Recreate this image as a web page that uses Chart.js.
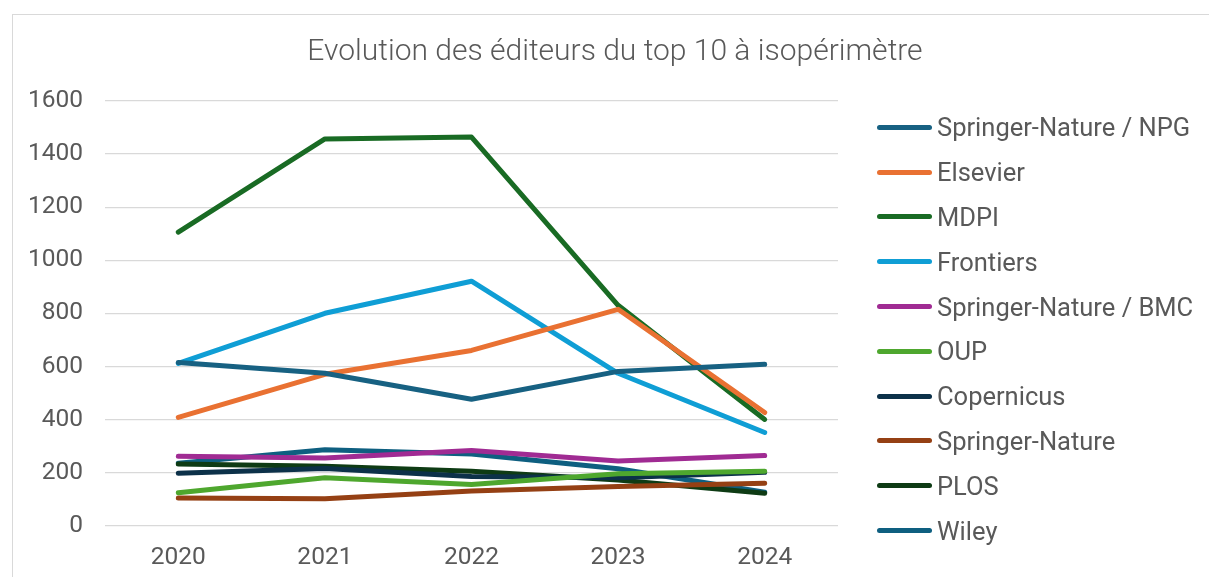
<!DOCTYPE html>
<html>
<head>
<meta charset="utf-8">
<script src="https://cdn.jsdelivr.net/npm/chart.js@4"></script>
<style>
  body { margin: 0; background: #fff; font-family: Roboto, 'Liberation Sans', sans-serif; }
  #wrap {
    position: absolute; left: 12px; top: 14px;
    width: 1200px; height: 570px;
    border: 1px solid #d9d9d9; box-sizing: border-box;
  }
  #title { position: absolute; left: 0; width: 1230px; top: 32px; text-align: center;
           color: #595959; font-size: 30px; font-weight: 300; line-height: 36px; white-space: nowrap; }
  #legend { position: absolute; left: 877px; top: 105px; }
  .item { position: relative; height: 44.8px; display: flex; align-items: center;
          color: #595959; font-size: 25.5px; white-space: nowrap; }
  .item .swatch { width: 55px; height: 5px; border-radius: 3px; margin-right: 5px; }
</style>
</head>
<body>
<div id="wrap"><canvas id="chart"></canvas></div>
<div id="title">Evolution des éditeurs du top 10 à isopérimètre</div>
<div id="legend"></div>
<script>
// Données
const years = ['2020', '2021', '2022', '2023', '2024'];
const yTicks = [0, 200, 400, 600, 800, 1000, 1200, 1400, 1600];

const npg        = [615, 574, 476, 581, 608];
const elsevier   = [408, 570, 660, 815, 426];
const mdpi       = [1106, 1457, 1464, 830, 400];
const frontiers  = [611, 800, 921, 574, 351];
const bmc        = [261, 255, 283, 243, 264];
const oup        = [124, 180, 155, 195, 205];
const copernicus = [197, 215, 185, 180, 201];
const springer   = [104, 101, 130, 147, 160];
const plos       = [232, 224, 205, 172, 122];
const wiley      = [235, 286, 270, 214, 126];

const series = [
    { label: 'Springer-Nature / NPG', data: npg, color: '#176182' },
    { label: 'Elsevier', data: elsevier, color: '#E97132' },
    { label: 'MDPI', data: mdpi, color: '#196B24' },
    { label: 'Frontiers', data: frontiers, color: '#0F9ED5' },
    { label: 'Springer-Nature / BMC', data: bmc, color: '#A02B93' },
    { label: 'OUP', data: oup, color: '#4EA72E' },
    { label: 'Copernicus', data: copernicus, color: '#0C3149' },
    { label: 'Springer-Nature', data: springer, color: '#954014' },
    { label: 'PLOS', data: plos, color: '#0E3B14' },
    { label: 'Wiley', data: wiley, color: '#0E5F80' }
];

const font = "Roboto, 'Liberation Sans', sans-serif";

// Légende en HTML (plus proche du rendu Excel)
const legend = document.getElementById('legend');
series.forEach(s => {
    const row = document.createElement('div');
    row.className = 'item';
    row.innerHTML = '<span class="swatch" style="background:' + s.color + '"></span>' + s.label;
    legend.appendChild(row);
});

new Chart(document.getElementById('chart'), {
    type: 'line',
    data: {
        labels: years,
        datasets: series.map(s => ({
            label: s.label,
            data: s.data,
            borderColor: s.color,
            backgroundColor: s.color,
            borderWidth: 5,
            pointRadius: 0,
            borderCapStyle: 'round',
            borderJoinStyle: 'round',
            tension: 0
        }))
    },
    options: {
        responsive: true,
        maintainAspectRatio: false,
        animation: false,
        layout: { padding: { left: 0, right: 373, top: 86, bottom: 0 } },
        plugins: {
            title: { display: false },
            legend: { display: false },
            tooltip: { enabled: false }
        },
        scales: {
            x: {
                offset: true,
                grid: { display: false },
                border: { display: false },
                ticks: { color: '#595959', font: { family: font, size: 24.5 }, padding: 10 }
            },
            y: {
                min: 0,
                max: 1600,
                afterBuildTicks: axis => { axis.ticks = yTicks.map(v => ({ value: v })); },
                afterFit: axis => { axis.width = 92; },
                grid: { color: '#d9d9d9', lineWidth: 1.3, drawTicks: false },
                border: { display: false },
                ticks: {
                    color: '#595959',
                    font: { family: font, size: 24.5 },
                    padding: 22,
                    callback: v => String(v)
                }
            }
        }
    }
});
</script>
</body>
</html>
